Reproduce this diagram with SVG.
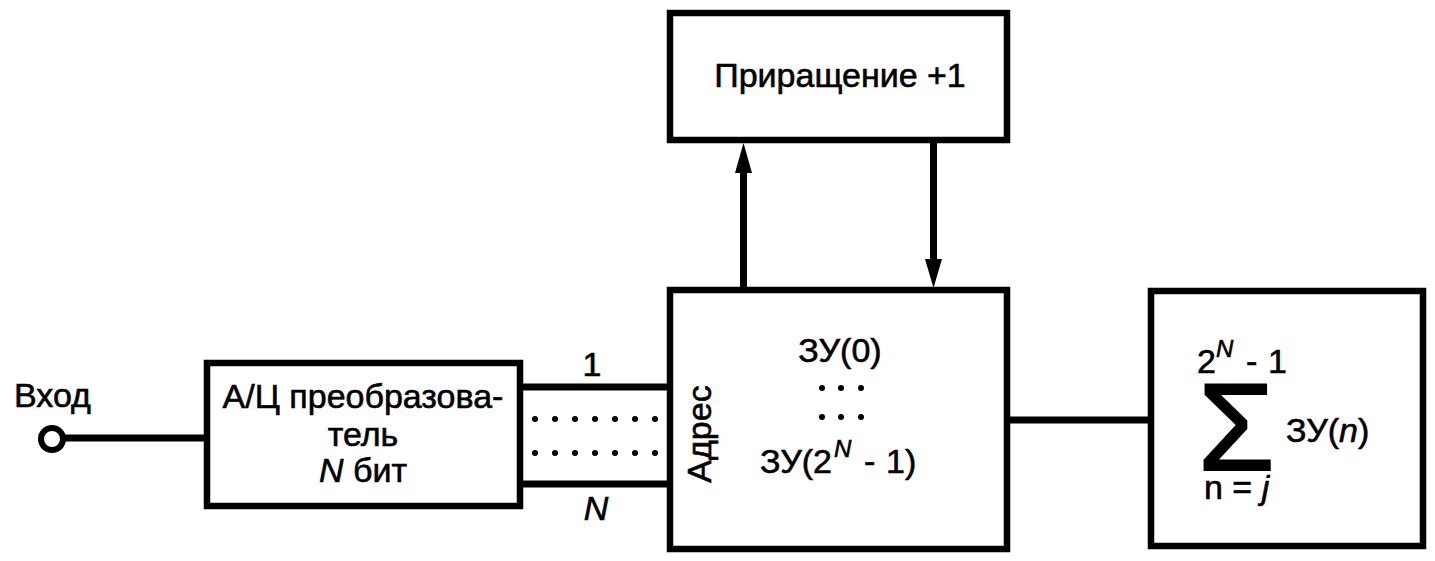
<svg xmlns="http://www.w3.org/2000/svg" width="1435" height="561" viewBox="0 0 1435 561">
<defs>
<style>
.box{fill:#fff;stroke:#000;stroke-width:6.5}
.ln{fill:none;stroke:#000;stroke-width:7}
text{font-family:"Liberation Sans",Arial,sans-serif;font-size:34px;fill:#000;stroke:#000;stroke-width:0.6}
.it{font-style:italic}
.sup{font-size:24px;font-style:italic}
</style>
</defs>
<rect width="1435" height="561" fill="#fff"/>
<g id="connectors">
<line class="ln" x1="63" y1="438" x2="207" y2="438"/>
<line class="ln" x1="520" y1="387" x2="670" y2="387"/>
<line class="ln" x1="520" y1="484" x2="670" y2="484"/>
<g fill="#000">
<circle cx="535" cy="419" r="3"/><circle cx="555" cy="419" r="3"/><circle cx="575" cy="419" r="3"/><circle cx="595" cy="419" r="3"/><circle cx="615" cy="419" r="3"/><circle cx="635" cy="419" r="3"/><circle cx="655" cy="419" r="3"/>
<circle cx="535" cy="453" r="3"/><circle cx="555" cy="453" r="3"/><circle cx="575" cy="453" r="3"/><circle cx="595" cy="453" r="3"/><circle cx="615" cy="453" r="3"/><circle cx="635" cy="453" r="3"/><circle cx="655" cy="453" r="3"/>
</g>
<text x="592" y="376" text-anchor="middle">1</text>
<text class="it" x="596" y="520" text-anchor="middle">N</text>
<line class="ln" x1="1007" y1="420" x2="1151" y2="420"/>
<line class="ln" x1="743.5" y1="290" x2="743.5" y2="165"/>
<path d="M735,173 L743.5,143 L752,173 Z" fill="#000"/>
<line class="ln" x1="933.5" y1="143" x2="933.5" y2="265"/>
<path d="M925,259 L933.5,288 L942,259 Z" fill="#000"/>
</g>
<g id="input">
<circle cx="52" cy="439" r="11" fill="#fff" stroke="#000" stroke-width="6"/>
<text x="14" y="407">Вход</text>
</g>
<g id="adc">
<rect class="box" x="207" y="363" width="313" height="143"/>
<text x="363" y="408" text-anchor="middle">А/Ц преобразова-</text>
<text x="363" y="446" text-anchor="middle">тель</text>
<text x="363" y="482" text-anchor="middle"><tspan class="it">N</tspan> бит</text>
</g>
<g id="increment">
<rect class="box" x="670" y="13" width="337" height="127"/>
<text x="840" y="87" text-anchor="middle">Приращение +1</text>
</g>
<g id="memory">
<rect class="box" x="670" y="290" width="337" height="259"/>
<text transform="translate(711,434) rotate(-90)" text-anchor="middle">Адрес</text>
<text x="840" y="362" text-anchor="middle">ЗУ(0)</text>
<g fill="#000">
<circle cx="822" cy="388" r="3"/><circle cx="841" cy="388" r="3"/><circle cx="861" cy="388" r="3"/>
<circle cx="822" cy="417" r="3"/><circle cx="841" cy="417" r="3"/><circle cx="861" cy="417" r="3"/>
</g>
<text x="760" y="473">ЗУ(2<tspan class="sup" dx="2" dy="-16">N</tspan><tspan x="864" dy="16">-</tspan><tspan x="886">1)</tspan></text>
</g>
<g id="sum">
<rect class="box" x="1151" y="291" width="272" height="255"/>
<text x="1197" y="373">2<tspan class="sup" dy="-16">N</tspan><tspan x="1246" dy="16">-</tspan><tspan x="1268">1</tspan></text>
<text x="1198" y="470" style="font-size:124px;stroke-width:2">Σ</text>
<text x="1286" y="442">ЗУ(<tspan class="it">n</tspan>)</text>
<text x="1204" y="499">n = <tspan class="it">j</tspan></text>
</g>
</svg>
